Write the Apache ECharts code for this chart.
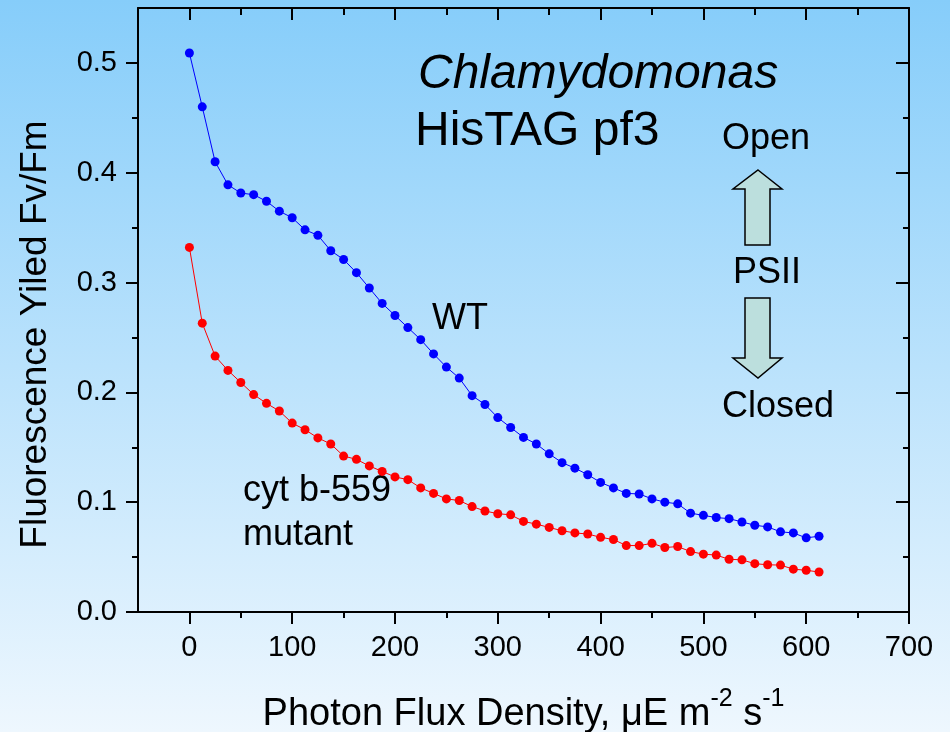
<!DOCTYPE html>
<html>
<head>
<meta charset="utf-8">
<script src="https://cdn.jsdelivr.net/npm/echarts@6/dist/echarts.min.js"></script>
<style>
  html, body { margin: 0; padding: 0; }
  #main { width: 950px; height: 732px; }
</style>
</head>
<body>
<div id="main"></div>
<script>
// photon flux density (x) for every point
var flux = [0, 12.5, 25, 37.5, 50, 62.5, 75, 87.5, 100, 112.5, 125, 137.5, 150, 162.5, 175, 187.5,
  200, 212.5, 225, 237.5, 250, 262.5, 275, 287.5, 300, 312.5, 325, 337.5, 350, 362.5, 375, 387.5,
  400, 412.5, 425, 437.5, 450, 462.5, 475, 487.5, 500, 512.5, 525, 537.5, 550, 562.5, 575, 587.5,
  600, 612.5]

// WT yield
var wtYield = [0.509, 0.460, 0.410, 0.389, 0.3815, 0.380, 0.374, 0.365, 0.359, 0.348, 0.343, 0.329,
  0.321, 0.309, 0.295, 0.281, 0.270, 0.259, 0.248, 0.235, 0.223, 0.213, 0.197, 0.189, 0.177, 0.168,
  0.159, 0.153, 0.144, 0.136, 0.131, 0.125, 0.118, 0.113, 0.108, 0.1075, 0.103, 0.100, 0.0985, 0.090,
  0.088, 0.086, 0.085, 0.082, 0.079, 0.0775, 0.073, 0.072, 0.0675, 0.069]

// cyt b-559 mutant yield
var mutantYield = [0.332, 0.263, 0.233, 0.220, 0.209, 0.198, 0.190, 0.183, 0.172, 0.166, 0.1585, 0.153,
  0.142, 0.139, 0.133, 0.128, 0.123, 0.1205, 0.113, 0.108, 0.103, 0.1015, 0.096, 0.092, 0.0895, 0.0885,
  0.0825, 0.080, 0.077, 0.074, 0.072, 0.071, 0.068, 0.066, 0.0605, 0.0605, 0.0625, 0.0587, 0.0596, 0.055,
  0.0527, 0.0518, 0.048, 0.0475, 0.044, 0.043, 0.0427, 0.039, 0.038, 0.0364]

// tick positions
var xTicks = [0, 100, 200, 300, 400, 500, 600, 700]
var xMinorTicks = [50, 150, 250, 350, 450, 550, 650]
var yTicks = [0, 0.1, 0.2, 0.3, 0.4, 0.5]
var yMinorTicks = [0.05, 0.15, 0.25, 0.35, 0.45]

var font = 'Liberation Sans, Arial, sans-serif'

function pairs(xs, ys) {
  return xs.map(function (x, i) { return [x, ys[i]] })
}

function xAxisOf(pos, ticks, len, inside, withLine, withLabel) {
  return {
    type: 'value', position: pos, min: -50, max: 700,
    splitLine: { show: false },
    axisLine: { show: withLine, onZero: false, lineStyle: { color: '#000', width: 2 } },
    axisTick: { show: true, customValues: ticks, inside: inside, length: len, lineStyle: { color: '#000', width: 2 } },
    axisLabel: withLabel
      ? { show: true, customValues: ticks, margin: 21, fontSize: 29, color: '#000', fontFamily: font }
      : { show: false }
  }
}

function yAxisOf(pos, ticks, len, inside, withLine, withLabel) {
  return {
    type: 'value', position: pos, min: 0, max: 0.55,
    splitLine: { show: false },
    axisLine: { show: withLine, onZero: false, lineStyle: { color: '#000', width: 2 } },
    axisTick: { show: true, customValues: ticks, inside: inside, length: len, lineStyle: { color: '#000', width: 2 } },
    axisLabel: withLabel
      ? {
          show: true, customValues: ticks, margin: 21, fontSize: 29, color: '#000', fontFamily: font,
          formatter: function (v) { return v.toFixed(1) }
        }
      : { show: false }
  }
}

var chart = echarts.init(document.getElementById('main'))

var xMain = xAxisOf('bottom', xTicks, 12, false, true, true)
xMain.name = '{n|Photon Flux Density, \u03bcE m}{s|-2}{n| s}{s|-1}'
xMain.nameLocation = 'middle'
xMain.nameGap = 75
xMain.nameTextStyle = {
  color: '#000', fontFamily: font,
  rich: {
    n: { fontSize: 38, lineHeight: 56, color: '#000', fontFamily: font },
    s: { fontSize: 25, lineHeight: 25, verticalAlign: 'top', color: '#000', fontFamily: font }
  }
}

var yMain = yAxisOf('left', yTicks, 12, false, true, true)
yMain.name = 'Fluorescence Yiled Fv/Fm'
yMain.nameLocation = 'middle'
yMain.nameGap = 84
yMain.nameTextStyle = { fontSize: 37, color: '#000', fontFamily: font, padding: [0, 49, 0, 0] }

var option = {
  animation: false,
  backgroundColor: {
    type: 'linear', x: 0, y: 0, x2: 0, y2: 1,
    colorStops: [
      { offset: 0, color: '#86cdfa' },
      { offset: 1, color: '#eef7fe' }
    ]
  },
  grid: { left: 138, right: 41, top: 8, bottom: 120, outerBoundsMode: 'none', containLabel: false },
  xAxis: [
    xMain,
    xAxisOf('bottom', xMinorTicks, 6, false, false, false),
    xAxisOf('top', xTicks, 12, true, true, false),
    xAxisOf('top', xMinorTicks, 7, true, false, false)
  ],
  yAxis: [
    yMain,
    yAxisOf('left', yMinorTicks, 6, false, false, false),
    yAxisOf('right', yTicks, 13, true, true, false),
    yAxisOf('right', yMinorTicks, 6, true, false, false)
  ],
  series: [
    {
      name: 'WT', type: 'line', xAxisIndex: 0, yAxisIndex: 0,
      data: pairs(flux, wtYield),
      symbol: 'circle', symbolSize: 9,
      itemStyle: { color: '#0000ff' },
      lineStyle: { color: '#0000ff', width: 1 }
    },
    {
      name: 'cyt b-559 mutant', type: 'line', xAxisIndex: 0, yAxisIndex: 0,
      data: pairs(flux, mutantYield),
      symbol: 'circle', symbolSize: 9,
      itemStyle: { color: '#ff0000' },
      lineStyle: { color: '#ff0000', width: 1 }
    }
  ],
  graphic: [
    { type: 'text', x: 418, y: 75, style: { text: 'Chlamydomonas', font: 'italic 48px ' + font, fill: '#000', verticalAlign: 'middle' } },
    { type: 'text', x: 415, y: 132, style: { text: 'HisTAG pf3', font: '48px ' + font, fill: '#000', verticalAlign: 'middle' } },
    { type: 'text', x: 722, y: 139, style: { text: 'Open', font: '36px ' + font, fill: '#000', verticalAlign: 'middle' } },
    { type: 'text', x: 733, y: 273, style: { text: 'PSII', font: '36px ' + font, fill: '#000', verticalAlign: 'middle' } },
    { type: 'text', x: 722, y: 407, style: { text: 'Closed', font: '36px ' + font, fill: '#000', verticalAlign: 'middle' } },
    { type: 'text', x: 432, y: 319, style: { text: 'WT', font: '36px ' + font, fill: '#000', verticalAlign: 'middle' } },
    { type: 'text', x: 243, y: 491, style: { text: 'cyt b-559', font: '36px ' + font, fill: '#000', verticalAlign: 'middle' } },
    { type: 'text', x: 243, y: 535, style: { text: 'mutant', font: '36px ' + font, fill: '#000', verticalAlign: 'middle' } },
    {
      type: 'polygon',
      shape: { points: [[758, 170], [782, 189], [770, 189], [770, 245], [745, 245], [745, 189], [733, 189]] },
      style: { fill: '#bcdfdd', stroke: '#000', lineWidth: 1.5 }
    },
    {
      type: 'polygon',
      shape: { points: [[745, 298], [770, 298], [770, 358], [782, 358], [758, 378], [733, 358], [745, 358]] },
      style: { fill: '#bcdfdd', stroke: '#000', lineWidth: 1.5 }
    }
  ]
}

chart.setOption(option)
</script>
</body>
</html>
